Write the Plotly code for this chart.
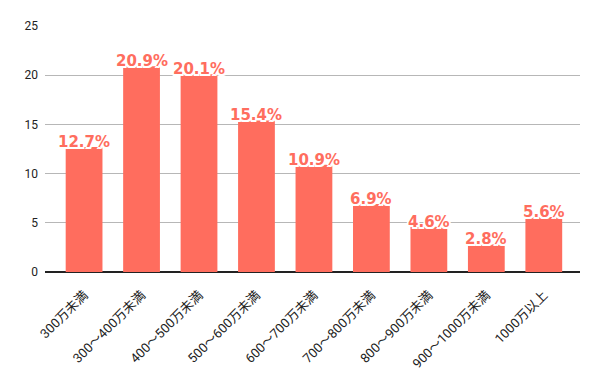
import plotly.graph_objects as go

categories = ["300万未満", "300～400万未満", "400～500万未満", "500～600万未満",
              "600～700万未満", "700～800万未満", "800～900万未満", "900～1000万未満", "1000万以上"]
values = [12.7, 20.9, 20.1, 15.4, 10.9, 6.9, 4.6, 2.8, 5.6]
labels = [f"{v:.1f}%" for v in values]
y_ticks = [0, 5, 10, 15, 20, 25]

bar_color = "#ff6d5e"
font_family = "Roboto, 'Noto Sans CJK JP', sans-serif"

fig = go.Figure()
fig.add_trace(go.Bar(
    x=list(range(len(categories))),
    y=values,
    marker=dict(color=bar_color, line=dict(width=0)),
    width=0.64,
    hoverinfo="skip",
))

outline = ", ".join(f"{dx}px {dy}px 0 #fff" for dx in (-1.5, 0, 1.5) for dy in (-1.5, 0, 1.5) if (dx, dy) != (0, 0))
for i, (v, t) in enumerate(zip(values, labels)):
    fig.add_annotation(
        x=i, y=v, text=t, showarrow=False, yanchor="bottom", yshift=-6,
        font=dict(family="'DejaVu Sans', sans-serif", size=15, color=bar_color, weight="bold", shadow=outline),
    )

fig.update_layout(
    width=592, height=363,
    margin=dict(l=37, r=20, t=18, b=98.5),
    paper_bgcolor="white", plot_bgcolor="white",
    showlegend=False,
    font=dict(family=font_family, color="#222222"),
    xaxis=dict(
        tickmode="array", tickvals=list(range(len(categories))), ticktext=categories,
        tickangle=-45, range=[-0.68, 8.63], showgrid=False, zeroline=False,
        showline=False, ticks="", tickfont=dict(size=13, color="#222222"),
        ticklabelstandoff=12, automargin=False,
    ),
    yaxis=dict(
        range=[0, 25], tickvals=y_ticks, showgrid=True, gridcolor="#b7b7b7", gridwidth=1,
        zeroline=True, zerolinecolor="#222222", zerolinewidth=1.5,
        ticks="", tickfont=dict(size=12, color="#222222"), ticklabelstandoff=6,
        automargin=False,
    ),
)

fig.write_html("out.html")
